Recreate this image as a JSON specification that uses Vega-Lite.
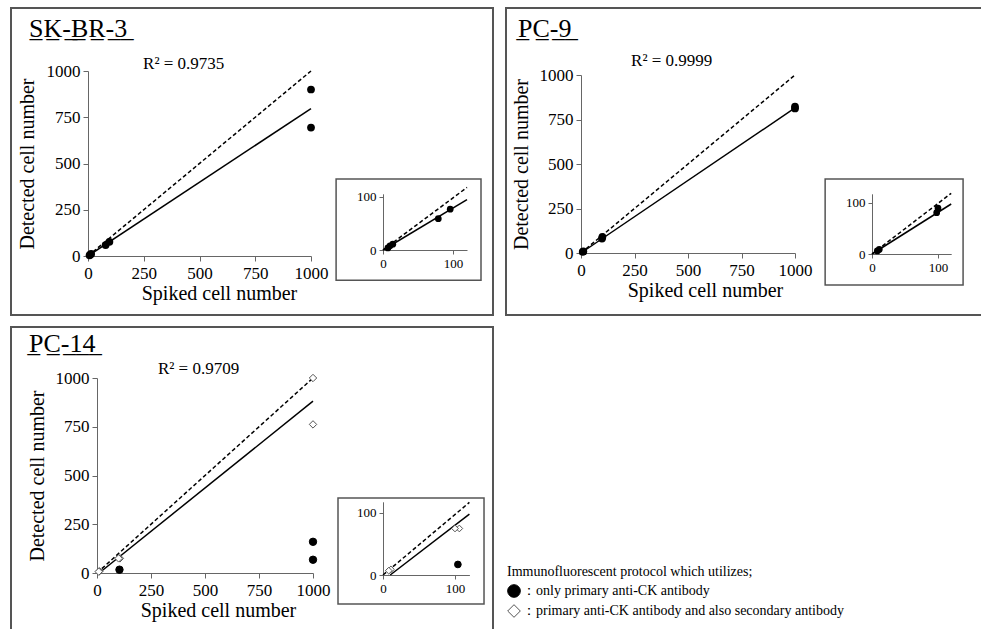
{
  "$schema": "https://vega.github.io/schema/vega-lite/v6.json",
  "padding": {"left": 10, "top": 7, "right": 0, "bottom": 0},
  "background": "white",
  "spacing": 10,
  "config": {
    "font": "Liberation Serif",
    "view": {"stroke": "#555", "strokeWidth": 2},
    "axis": {"grid": false, "domainColor": "#666", "tickColor": "#666", "domainWidth": 1, "tickWidth": 1, "tickSize": 5,
      "labelFont": "Liberation Serif", "labelFontSize": 17, "labelColor": "black",
      "titleFont": "Liberation Serif", "titleFontSize": 20, "titleFontWeight": "normal", "titleColor": "black",
      "labelFlush": false, "labelOverlap": false, "format": "d"},
    "title": {"font": "Liberation Serif", "fontSize": 26, "fontWeight": "normal", "color": "black", "anchor": "start", "frame": "group", "baseline": "alphabetic"},
    "legend": {"orient": "none", "legendX": 496, "legendY": 557, "padding": 0,
      "titleFont": "Liberation Serif", "titleFontSize": 14, "titleFontWeight": "normal", "titleColor": "black", "titleLimit": 0, "titlePadding": 5,
      "labelFont": "Liberation Serif", "labelFontSize": 14, "labelColor": "black", "labelLimit": 0, "labelOffset": 1,
      "symbolSize": 160, "symbolStrokeWidth": 1, "rowPadding": 2}
  },
  "datasets": {
    "points": [
      {"panel": "SK-BR-3", "spiked": 1000, "detected": 900, "protocol": "only primary anti-CK antibody"},
      {"panel": "SK-BR-3", "spiked": 1000, "detected": 694, "protocol": "only primary anti-CK antibody"},
      {"panel": "SK-BR-3", "spiked": 96, "detected": 77, "protocol": "only primary anti-CK antibody"},
      {"panel": "SK-BR-3", "spiked": 79, "detected": 59, "protocol": "only primary anti-CK antibody"},
      {"panel": "SK-BR-3", "spiked": 14, "detected": 11, "protocol": "only primary anti-CK antibody"},
      {"panel": "SK-BR-3", "spiked": 10, "detected": 8, "protocol": "only primary anti-CK antibody"},
      {"panel": "SK-BR-3", "spiked": 7, "detected": 4, "protocol": "only primary anti-CK antibody"},
      {"panel": "PC-9", "spiked": 1000, "detected": 822, "protocol": "only primary anti-CK antibody"},
      {"panel": "PC-9", "spiked": 1000, "detected": 812, "protocol": "only primary anti-CK antibody"},
      {"panel": "PC-9", "spiked": 100, "detected": 90, "protocol": "only primary anti-CK antibody"},
      {"panel": "PC-9", "spiked": 98, "detected": 81, "protocol": "only primary anti-CK antibody"},
      {"panel": "PC-9", "spiked": 11, "detected": 9, "protocol": "only primary anti-CK antibody"},
      {"panel": "PC-9", "spiked": 8, "detected": 6, "protocol": "only primary anti-CK antibody"},
      {"panel": "PC-14", "spiked": 1000, "detected": 160, "protocol": "only primary anti-CK antibody"},
      {"panel": "PC-14", "spiked": 1000, "detected": 68, "protocol": "only primary anti-CK antibody"},
      {"panel": "PC-14", "spiked": 104, "detected": 17, "protocol": "only primary anti-CK antibody"},
      {"panel": "PC-14", "spiked": 1000, "detected": 1000, "protocol": "primary anti-CK antibody and also secondary antibody"},
      {"panel": "PC-14", "spiked": 1000, "detected": 762, "protocol": "primary anti-CK antibody and also secondary antibody"},
      {"panel": "PC-14", "spiked": 106, "detected": 75, "protocol": "primary anti-CK antibody and also secondary antibody"},
      {"panel": "PC-14", "spiked": 100, "detected": 75, "protocol": "primary anti-CK antibody and also secondary antibody"},
      {"panel": "PC-14", "spiked": 11, "detected": 9, "protocol": "primary anti-CK antibody and also secondary antibody"},
      {"panel": "PC-14", "spiked": 8, "detected": 7, "protocol": "primary anti-CK antibody and also secondary antibody"}
    ],
    "lines": [
      {"panel": "SK-BR-3", "line": "ideal", "spiked": 0, "detected": 0},
      {"panel": "SK-BR-3", "line": "ideal", "spiked": 1000, "detected": 1000},
      {"panel": "SK-BR-3", "line": "fit", "spiked": 0, "detected": 0},
      {"panel": "SK-BR-3", "line": "fit", "spiked": 1000, "detected": 797},
      {"panel": "PC-9", "line": "ideal", "spiked": 0, "detected": 0},
      {"panel": "PC-9", "line": "ideal", "spiked": 1000, "detected": 1000},
      {"panel": "PC-9", "line": "fit", "spiked": 0, "detected": 0},
      {"panel": "PC-9", "line": "fit", "spiked": 1000, "detected": 815},
      {"panel": "PC-14", "line": "ideal", "spiked": 0, "detected": 0},
      {"panel": "PC-14", "line": "ideal", "spiked": 1000, "detected": 1000},
      {"panel": "PC-14", "line": "fit", "spiked": 10, "detected": 0},
      {"panel": "PC-14", "line": "fit", "spiked": 1000, "detected": 881}
    ],
    "insetLines": [
      {"panel": "SK-BR-3", "line": "ideal", "spiked": 0, "detected": 0},
      {"panel": "SK-BR-3", "line": "ideal", "spiked": 120, "detected": 118},
      {"panel": "SK-BR-3", "line": "fit", "spiked": 0, "detected": 0},
      {"panel": "SK-BR-3", "line": "fit", "spiked": 120, "detected": 95},
      {"panel": "PC-9", "line": "ideal", "spiked": 0, "detected": 0},
      {"panel": "PC-9", "line": "ideal", "spiked": 120, "detected": 119},
      {"panel": "PC-9", "line": "fit", "spiked": 0, "detected": 0},
      {"panel": "PC-9", "line": "fit", "spiked": 120, "detected": 98},
      {"panel": "PC-14", "line": "ideal", "spiked": 0, "detected": 0},
      {"panel": "PC-14", "line": "ideal", "spiked": 120, "detected": 117},
      {"panel": "PC-14", "line": "fit", "spiked": 10, "detected": 0},
      {"panel": "PC-14", "line": "fit", "spiked": 120, "detected": 98}
    ]
  },
  "vconcat": [
    {
      "spacing": 11,
      "hconcat": [
        {
          "width": 482, "height": 307,
          "title": {"text": "S\u0332K\u0332-\u0332B\u0332R\u0332-\u03323\u0332", "offset": -34, "dx": 18},
          "resolve": {"scale": {"x": "independent", "y": "independent"}, "axis": {"x": "independent", "y": "independent"}},
          "layer": [
            {"data": {"name": "lines"}, "transform": [{"filter": "datum.panel === 'SK-BR-3' && datum.line === 'ideal'"}],
             "mark": {"type": "line", "color": "black", "strokeWidth": 1.5, "strokeDash": [4, 2.5]},
             "encoding": {
               "x": {"field": "spiked", "type": "quantitative", "scale": {"domain": [0, 1000], "range": [77, 300], "nice": false},
                     "axis": {"orient": "bottom", "values": [0, 250, 500, 750, 1000], "title": "Spiked cell number", "offset": -59, "titleX": 208, "labelPadding": 4, "titlePadding": 2, "labelFont": "Liberation Serif", "titleFont": "Liberation Serif"}},
               "y": {"field": "detected", "type": "quantitative", "scale": {"domain": [0, 1000], "range": [248, 63], "nice": false},
                     "axis": {"orient": "left", "values": [0, 250, 500, 750, 1000], "title": "Detected cell number", "offset": -77, "labelPadding": 3, "titlePadding": 9, "labelFont": "Liberation Serif", "titleFont": "Liberation Serif"}}
             }},
            {"data": {"name": "lines"}, "transform": [{"filter": "datum.panel === 'SK-BR-3' && datum.line === 'fit'"}],
             "mark": {"type": "line", "color": "black", "strokeWidth": 1.5},
             "encoding": {
               "x": {"field": "spiked", "type": "quantitative", "scale": {"domain": [0, 1000], "range": [77, 300], "nice": false}, "axis": null},
               "y": {"field": "detected", "type": "quantitative", "scale": {"domain": [0, 1000], "range": [248, 63], "nice": false}, "axis": null}
             }},
            {"data": {"name": "points"}, "transform": [{"filter": "datum.panel === 'SK-BR-3'"}],
             "mark": {"type": "point", "filled": true, "color": "black", "size": 60, "opacity": 1},
             "encoding": {
               "x": {"field": "spiked", "type": "quantitative", "scale": {"domain": [0, 1000], "range": [77, 300], "nice": false}, "axis": null},
               "y": {"field": "detected", "type": "quantitative", "scale": {"domain": [0, 1000], "range": [248, 63], "nice": false}, "axis": null}
             }},
            {"data": {"values": [{}]},
             "mark": {"type": "text", "text": "R² = 0.9735", "fontSize": 17, "align": "left", "baseline": "middle", "color": "black"},
             "encoding": {
               "x": {"datum": 247, "type": "quantitative", "scale": {"domain": [0, 1000], "range": [77, 300], "nice": false}, "axis": null},
               "y": {"datum": 1038, "type": "quantitative", "scale": {"domain": [0, 1000], "range": [248, 63], "nice": false}, "axis": null}
             }},
            {"data": {"values": [{}]},
             "mark": {"type": "rect", "filled": false, "stroke": "#555", "strokeWidth": 1.5},
             "encoding": {
               "x": {"datum": -67, "type": "quantitative", "scale": {"domain": [0, 120], "range": [372, 456], "nice": false},
                     "axis": {"orient": "bottom", "values": [0, 100], "title": null, "offset": -65, "labelFontSize": 13, "tickSize": 4, "labelPadding": 3, "labelFont": "Liberation Serif"}},
               "x2": {"datum": 140},
               "y": {"datum": 134, "type": "quantitative", "scale": {"domain": [0, 106], "range": [242, 185.8], "nice": false},
                     "axis": {"orient": "left", "values": [0, 100], "title": null, "offset": -372, "labelFontSize": 13, "tickSize": 4, "labelPadding": 3, "labelFont": "Liberation Serif"}},
               "y2": {"datum": -57}
             }},
            {"data": {"name": "insetLines"}, "transform": [{"filter": "datum.panel === 'SK-BR-3' && datum.line === 'ideal'"}],
             "mark": {"type": "line", "color": "black", "strokeWidth": 1.5, "strokeDash": [4, 2.5]},
             "encoding": {
               "x": {"field": "spiked", "type": "quantitative", "scale": {"domain": [0, 120], "range": [372, 456], "nice": false}, "axis": null},
               "y": {"field": "detected", "type": "quantitative", "scale": {"domain": [0, 106], "range": [242, 185.8], "nice": false}, "axis": null}
             }},
            {"data": {"name": "insetLines"}, "transform": [{"filter": "datum.panel === 'SK-BR-3' && datum.line === 'fit'"}],
             "mark": {"type": "line", "color": "black", "strokeWidth": 1.5},
             "encoding": {
               "x": {"field": "spiked", "type": "quantitative", "scale": {"domain": [0, 120], "range": [372, 456], "nice": false}, "axis": null},
               "y": {"field": "detected", "type": "quantitative", "scale": {"domain": [0, 106], "range": [242, 185.8], "nice": false}, "axis": null}
             }},
            {"data": {"name": "points"}, "transform": [{"filter": "datum.panel === 'SK-BR-3' && datum.spiked <= 120"}],
             "mark": {"type": "point", "filled": true, "color": "black", "size": 45, "opacity": 1},
             "encoding": {
               "x": {"field": "spiked", "type": "quantitative", "scale": {"domain": [0, 120], "range": [372, 456], "nice": false}, "axis": null},
               "y": {"field": "detected", "type": "quantitative", "scale": {"domain": [0, 106], "range": [242, 185.8], "nice": false}, "axis": null}
             }}
          ]
        },
        {
          "width": 476, "height": 307,
          "title": {"text": "P\u0332C\u0332-\u03329\u0332", "offset": -34, "dx": 12},
          "resolve": {"scale": {"x": "independent", "y": "independent"}, "axis": {"x": "independent", "y": "independent"}},
          "layer": [
            {"data": {"name": "lines"}, "transform": [{"filter": "datum.panel === 'PC-9' && datum.line === 'ideal'"}],
             "mark": {"type": "line", "color": "black", "strokeWidth": 1.5, "strokeDash": [4, 2.5]},
             "encoding": {
               "x": {"field": "spiked", "type": "quantitative", "scale": {"domain": [0, 1000], "range": [75, 289], "nice": false},
                     "axis": {"orient": "bottom", "values": [0, 250, 500, 750, 1000], "title": "Spiked cell number", "offset": -62, "titleX": 199, "labelPadding": 4, "titlePadding": 2, "labelFont": "Liberation Serif", "titleFont": "Liberation Serif"}},
               "y": {"field": "detected", "type": "quantitative", "scale": {"domain": [0, 1000], "range": [245, 67], "nice": false},
                     "axis": {"orient": "left", "values": [0, 250, 500, 750, 1000], "title": "Detected cell number", "offset": -75, "labelPadding": 3, "titlePadding": 8, "labelFont": "Liberation Serif", "titleFont": "Liberation Serif"}}
             }},
            {"data": {"name": "lines"}, "transform": [{"filter": "datum.panel === 'PC-9' && datum.line === 'fit'"}],
             "mark": {"type": "line", "color": "black", "strokeWidth": 1.5},
             "encoding": {
               "x": {"field": "spiked", "type": "quantitative", "scale": {"domain": [0, 1000], "range": [75, 289], "nice": false}, "axis": null},
               "y": {"field": "detected", "type": "quantitative", "scale": {"domain": [0, 1000], "range": [245, 67], "nice": false}, "axis": null}
             }},
            {"data": {"name": "points"}, "transform": [{"filter": "datum.panel === 'PC-9'"}],
             "mark": {"type": "point", "filled": true, "color": "black", "size": 60, "opacity": 1},
             "encoding": {
               "x": {"field": "spiked", "type": "quantitative", "scale": {"domain": [0, 1000], "range": [75, 289], "nice": false}, "axis": null},
               "y": {"field": "detected", "type": "quantitative", "scale": {"domain": [0, 1000], "range": [245, 67], "nice": false}, "axis": null}
             }},
            {"data": {"values": [{}]},
             "mark": {"type": "text", "text": "R² = 0.9999", "fontSize": 17, "align": "left", "baseline": "middle", "color": "black"},
             "encoding": {
               "x": {"datum": 234, "type": "quantitative", "scale": {"domain": [0, 1000], "range": [75, 289], "nice": false}, "axis": null},
               "y": {"datum": 1079, "type": "quantitative", "scale": {"domain": [0, 1000], "range": [245, 67], "nice": false}, "axis": null}
             }},
            {"data": {"values": [{}]},
             "mark": {"type": "rect", "filled": false, "stroke": "#555", "strokeWidth": 1.5},
             "encoding": {
               "x": {"datum": -71, "type": "quantitative", "scale": {"domain": [0, 120], "range": [366, 445.2], "nice": false},
                     "axis": {"orient": "bottom", "values": [0, 100], "title": null, "offset": -61, "labelFontSize": 13, "tickSize": 4, "labelPadding": 3, "labelFont": "Liberation Serif"}},
               "x2": {"datum": 138},
               "y": {"datum": 147, "type": "quantitative", "scale": {"domain": [0, 118], "range": [246, 185.8], "nice": false},
                     "axis": {"orient": "left", "values": [0, 100], "title": null, "offset": -366, "labelFontSize": 13, "tickSize": 4, "labelPadding": 3, "labelFont": "Liberation Serif"}},
               "y2": {"datum": -61}
             }},
            {"data": {"name": "insetLines"}, "transform": [{"filter": "datum.panel === 'PC-9' && datum.line === 'ideal'"}],
             "mark": {"type": "line", "color": "black", "strokeWidth": 1.5, "strokeDash": [4, 2.5]},
             "encoding": {
               "x": {"field": "spiked", "type": "quantitative", "scale": {"domain": [0, 120], "range": [366, 445.2], "nice": false}, "axis": null},
               "y": {"field": "detected", "type": "quantitative", "scale": {"domain": [0, 118], "range": [246, 185.8], "nice": false}, "axis": null}
             }},
            {"data": {"name": "insetLines"}, "transform": [{"filter": "datum.panel === 'PC-9' && datum.line === 'fit'"}],
             "mark": {"type": "line", "color": "black", "strokeWidth": 1.5},
             "encoding": {
               "x": {"field": "spiked", "type": "quantitative", "scale": {"domain": [0, 120], "range": [366, 445.2], "nice": false}, "axis": null},
               "y": {"field": "detected", "type": "quantitative", "scale": {"domain": [0, 118], "range": [246, 185.8], "nice": false}, "axis": null}
             }},
            {"data": {"name": "points"}, "transform": [{"filter": "datum.panel === 'PC-9' && datum.spiked <= 120"}],
             "mark": {"type": "point", "filled": true, "color": "black", "size": 45, "opacity": 1},
             "encoding": {
               "x": {"field": "spiked", "type": "quantitative", "scale": {"domain": [0, 120], "range": [366, 445.2], "nice": false}, "axis": null},
               "y": {"field": "detected", "type": "quantitative", "scale": {"domain": [0, 118], "range": [246, 185.8], "nice": false}, "axis": null}
             }}
          ]
        }
      ]
    },
    {
      "width": 482, "height": 305,
      "title": {"text": "P\u0332C\u0332-\u03321\u03324\u0332", "offset": -30, "dx": 18},
      "resolve": {"scale": {"x": "independent", "y": "independent"}, "axis": {"x": "independent", "y": "independent"}},
      "layer": [
        {"data": {"name": "lines"}, "transform": [{"filter": "datum.panel === 'PC-14' && datum.line === 'ideal'"}],
         "mark": {"type": "line", "color": "black", "strokeWidth": 1.5, "strokeDash": [4, 2.5]},
         "encoding": {
           "x": {"field": "spiked", "type": "quantitative", "scale": {"domain": [0, 1000], "range": [86, 302], "nice": false},
                 "axis": {"orient": "bottom", "values": [0, 250, 500, 750, 1000], "title": "Spiked cell number", "offset": -59, "titleX": 207, "labelPadding": 4, "titlePadding": 2, "labelFont": "Liberation Serif", "titleFont": "Liberation Serif"}},
           "y": {"field": "detected", "type": "quantitative", "scale": {"domain": [0, 1000], "range": [246, 51], "nice": false},
                 "axis": {"orient": "left", "values": [0, 250, 500, 750, 1000], "title": "Detected cell number", "offset": -86, "labelPadding": 3, "titlePadding": 8, "labelFont": "Liberation Serif", "titleFont": "Liberation Serif"}}
         }},
        {"data": {"name": "lines"}, "transform": [{"filter": "datum.panel === 'PC-14' && datum.line === 'fit'"}],
         "mark": {"type": "line", "color": "black", "strokeWidth": 1.5},
         "encoding": {
           "x": {"field": "spiked", "type": "quantitative", "scale": {"domain": [0, 1000], "range": [86, 302], "nice": false}, "axis": null},
           "y": {"field": "detected", "type": "quantitative", "scale": {"domain": [0, 1000], "range": [246, 51], "nice": false}, "axis": null}
         }},
        {"data": {"name": "points"}, "transform": [{"filter": "datum.panel === 'PC-14'"}],
         "mark": {"type": "point", "filled": true, "strokeWidth": 1, "size": 55, "opacity": 1},
         "encoding": {
           "x": {"field": "spiked", "type": "quantitative", "scale": {"domain": [0, 1000], "range": [86, 302], "nice": false}, "axis": null},
           "y": {"field": "detected", "type": "quantitative", "scale": {"domain": [0, 1000], "range": [246, 51], "nice": false}, "axis": null},
           "shape": {"field": "protocol", "type": "nominal", "title": "Immunofluorescent protocol which utilizes;",
                     "scale": {"domain": ["only primary anti-CK antibody", "primary anti-CK antibody and also secondary antibody"], "range": ["circle", "diamond"]},
                     "legend": {"labelExpr": "'：' + datum.label"}},
           "fill": {"field": "protocol", "type": "nominal", "title": "Immunofluorescent protocol which utilizes;",
                    "scale": {"domain": ["only primary anti-CK antibody", "primary anti-CK antibody and also secondary antibody"], "range": ["black", "white"]},
                    "legend": {"labelExpr": "'：' + datum.label"}},
           "stroke": {"field": "protocol", "type": "nominal", "title": "Immunofluorescent protocol which utilizes;",
                    "scale": {"domain": ["only primary anti-CK antibody", "primary anti-CK antibody and also secondary antibody"], "range": ["black", "#555"]},
                    "legend": {"labelExpr": "'：' + datum.label"}}
         }},
        {"data": {"values": [{}]},
         "mark": {"type": "text", "text": "R² = 0.9709", "fontSize": 17, "align": "left", "baseline": "middle", "color": "black"},
         "encoding": {
           "x": {"datum": 282, "type": "quantitative", "scale": {"domain": [0, 1000], "range": [86, 302], "nice": false}, "axis": null},
           "y": {"datum": 1046, "type": "quantitative", "scale": {"domain": [0, 1000], "range": [246, 51], "nice": false}, "axis": null}
         }},
        {"data": {"values": [{}]},
         "mark": {"type": "rect", "filled": false, "stroke": "#555", "strokeWidth": 1.5},
         "encoding": {
           "x": {"datum": -62.5, "type": "quantitative", "scale": {"domain": [0, 120], "range": [372, 458.4], "nice": false},
                 "axis": {"orient": "bottom", "values": [0, 100], "title": null, "offset": -57, "labelFontSize": 13, "tickSize": 4, "labelPadding": 3, "labelFont": "Liberation Serif"}},
           "x2": {"datum": 140.3},
           "y": {"datum": 124.2, "type": "quantitative", "scale": {"domain": [0, 118], "range": [248, 174.8], "nice": false},
                 "axis": {"orient": "left", "values": [0, 100], "title": null, "offset": -372, "labelFontSize": 13, "tickSize": 4, "labelPadding": 3, "labelFont": "Liberation Serif"}},
           "y2": {"datum": -46.8}
         }},
        {"data": {"name": "insetLines"}, "transform": [{"filter": "datum.panel === 'PC-14' && datum.line === 'ideal'"}],
         "mark": {"type": "line", "color": "black", "strokeWidth": 1.5, "strokeDash": [4, 2.5]},
         "encoding": {
           "x": {"field": "spiked", "type": "quantitative", "scale": {"domain": [0, 120], "range": [372, 458.4], "nice": false}, "axis": null},
           "y": {"field": "detected", "type": "quantitative", "scale": {"domain": [0, 118], "range": [248, 174.8], "nice": false}, "axis": null}
         }},
        {"data": {"name": "insetLines"}, "transform": [{"filter": "datum.panel === 'PC-14' && datum.line === 'fit'"}],
         "mark": {"type": "line", "color": "black", "strokeWidth": 1.5},
         "encoding": {
           "x": {"field": "spiked", "type": "quantitative", "scale": {"domain": [0, 120], "range": [372, 458.4], "nice": false}, "axis": null},
           "y": {"field": "detected", "type": "quantitative", "scale": {"domain": [0, 118], "range": [248, 174.8], "nice": false}, "axis": null}
         }},
        {"data": {"name": "points"}, "transform": [{"filter": "datum.panel === 'PC-14' && datum.spiked <= 120"}],
         "mark": {"type": "point", "filled": true, "strokeWidth": 1, "size": 45, "opacity": 1},
         "encoding": {
           "x": {"field": "spiked", "type": "quantitative", "scale": {"domain": [0, 120], "range": [372, 458.4], "nice": false}, "axis": null},
           "y": {"field": "detected", "type": "quantitative", "scale": {"domain": [0, 118], "range": [248, 174.8], "nice": false}, "axis": null},
           "shape": {"field": "protocol", "type": "nominal", "legend": null,
                     "scale": {"domain": ["only primary anti-CK antibody", "primary anti-CK antibody and also secondary antibody"], "range": ["circle", "diamond"]}},
           "fill": {"field": "protocol", "type": "nominal", "legend": null,
                    "scale": {"domain": ["only primary anti-CK antibody", "primary anti-CK antibody and also secondary antibody"], "range": ["black", "white"]}},
           "stroke": {"field": "protocol", "type": "nominal", "legend": null,
                    "scale": {"domain": ["only primary anti-CK antibody", "primary anti-CK antibody and also secondary antibody"], "range": ["black", "#555"]}}
         }}
      ]
    }
  ]
}
